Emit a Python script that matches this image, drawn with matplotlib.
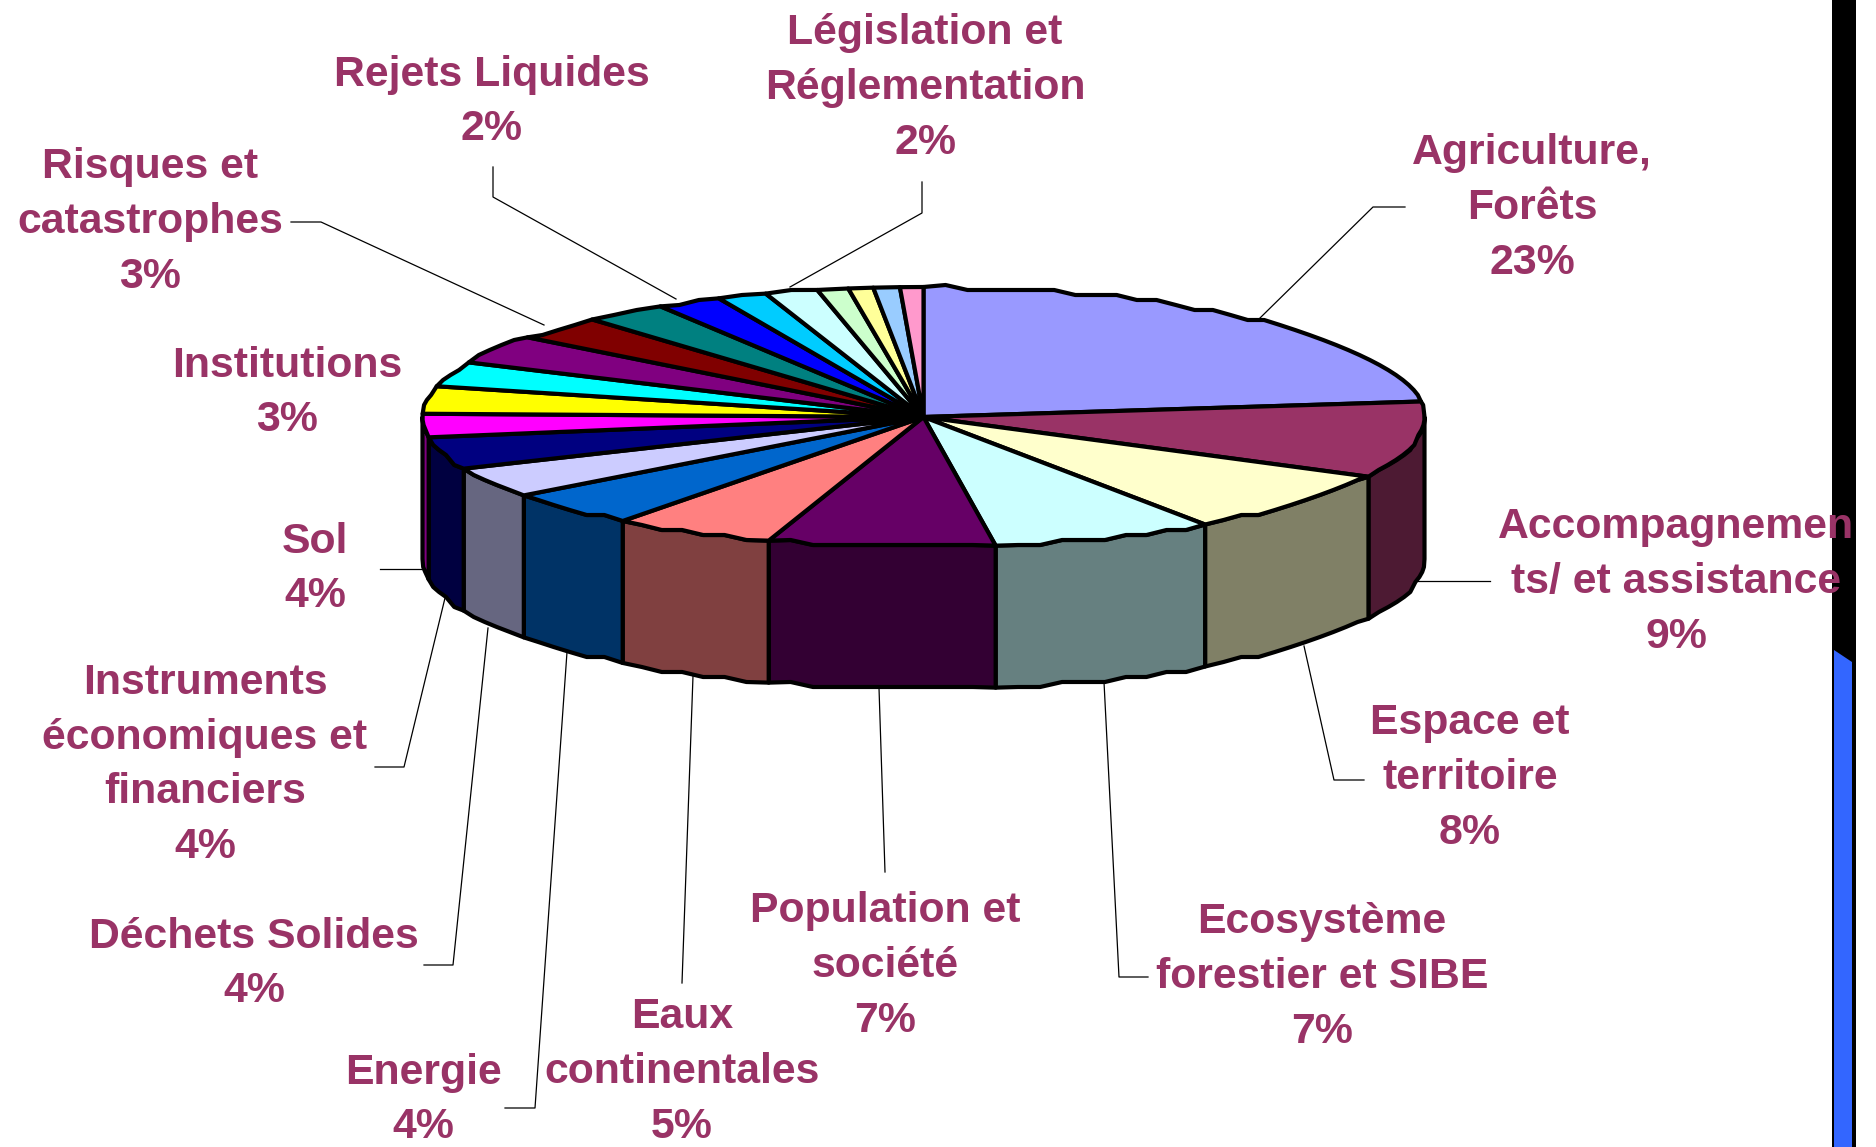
import numpy as np
import matplotlib
matplotlib.use("Agg")
import matplotlib.pyplot as plt
from matplotlib.colors import to_rgb
from matplotlib.patches import Rectangle, Polygon

# slice shares, clockwise from 12 o'clock
shares = [23.1, 9.5, 7.9, 7.2, 7.3, 5.25, 4.45, 3.8, 4.0, 2.9, 3.4,
          3.1, 3.6, 3.0, 2.7, 2.1, 1.6, 1.7, 1.0, 0.8, 0.85, 0.75]
colors = ["#9999FF", "#993366", "#FFFFCC", "#CCFFFF", "#660066", "#FF8080",
          "#0066CC", "#CCCCFF", "#000080", "#FF00FF", "#FFFF00", "#00FFFF",
          "#800080", "#800000", "#008080", "#0000FF", "#00CCFF", "#CCFFFF",
          "#CCFFCC", "#FFFF99", "#99CCFF", "#FF99CC"]

labels = ["Agriculture,\nForêts\n23%", "Accompagnemen\nts/ et assistance\n9%",
          "Espace et\nterritoire\n8%", "Ecosystème\nforestier et SIBE\n7%",
          "Population et\nsociété\n7%", "Eaux\ncontinentales\n5%", "Energie\n4%",
          "Déchets Solides\n4%", "Instruments\néconomiques et\nfinanciers\n4%",
          "Sol\n4%", "Institutions\n3%", "Risques et\ncatastrophes\n3%",
          "Rejets Liquides\n2%", "Législation et\nRéglementation\n2%"]
label_x = [1532, 1676, 1470, 1322, 885, 682, 423, 254, 205, 315, 287, 150, 492, 925]
label_y = [208, 582, 778, 977, 966, 1072, 1100, 964, 765, 569, 393, 222, 102, 88]

# leader lines, one per label that has one
leaders = [
    ([1260, 1373, 1405], [318, 207, 207]),
    ([1418, 1490], [581, 581]),
    ([1304, 1334, 1364], [646, 780, 780]),
    ([1104, 1119, 1148], [682, 977, 977]),
    ([879, 885], [688, 872]),
    ([693, 682], [676, 983]),
    ([567, 535, 505], [652, 1108, 1108]),
    ([488, 453, 424], [628, 965, 965]),
    ([445, 404, 375], [598, 767, 767]),
    ([424, 380], [569, 569]),
    ([544, 321, 291], [325, 222, 222]),
    ([676, 493, 493], [299, 197, 167]),
    ([790, 922, 922], [287, 213, 182]),
]

cx, cy = 923.5, 417
rx, ry = 501, 130
depth = 142
step = 5  # the outline is stepped in the reference


def rim(a0, a1):
    t = np.radians(np.linspace(a0, a1, max(int(abs(a1 - a0) / 2.5), 1) + 1))
    x, y = cx + rx * np.sin(t), cy - ry * np.cos(t)
    y[1:-1] = np.round(y[1:-1] / step) * step
    return x, y


fig = plt.figure(figsize=(18.76, 11.47), dpi=100)
ax = fig.add_axes([0, 0, 1, 1])
ax.set_xlim(0, 1876)
ax.set_ylim(1147, 0)
ax.axis("off")

edges = np.concatenate([[0], np.cumsum(shares) / np.sum(shares) * 360])

# side wall first, only the front half of the disc shows it
for i, c in enumerate(colors):
    a0, a1 = max(edges[i], 90), min(edges[i + 1], 270)
    if a1 <= a0:
        continue
    x, y = rim(a0, a1)
    xs = np.r_[x, x[::-1]]
    ys = np.r_[y, y[::-1] + depth]
    dark = tuple(v * 0.5 for v in to_rgb(c))
    ax.add_patch(Polygon(np.c_[xs, ys], fc=dark, ec="black", lw=3.0, joinstyle="round", zorder=2))

for i, c in enumerate(colors):
    x, y = rim(edges[i], edges[i + 1])
    xs = np.r_[cx, x]
    ys = np.r_[cy, y]
    ax.add_patch(Polygon(np.c_[xs, ys], fc=c, ec="black", lw=3.0, joinstyle="round", zorder=3))

for xs, ys in leaders:
    ax.plot(xs, ys, color="black", lw=0.9, zorder=1)

# bar at the right edge of the slide
ax.add_patch(Rectangle((1832, 0), 24, 1147, fc="black", ec="none", zorder=4))
ax.add_patch(Polygon([(1834, 650), (1852, 662), (1852, 1147), (1834, 1147)], fc="#3366FF", ec="none", zorder=5))

for s, x, y in zip(labels, label_x, label_y):
    ax.text(x, y, s, ha="center", va="center", multialignment="center", family="Liberation Sans",
            fontweight="bold", fontsize=30.8, color="#993366", linespacing=1.48, zorder=6)

fig.savefig("out.png", dpi=100)
